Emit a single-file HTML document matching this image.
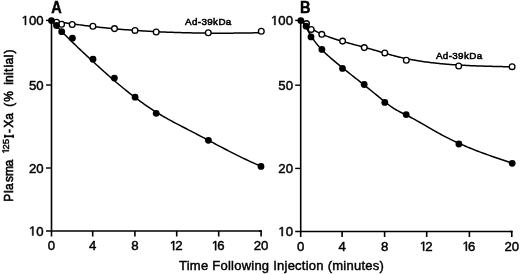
<!DOCTYPE html>
<html><head><meta charset="utf-8"><style>
html,body{margin:0;padding:0;background:#fff;}
body{width:520px;height:274px;overflow:hidden;}
svg{display:block;will-change:transform;}
</style></head><body>
<svg width="520" height="274" viewBox="0 0 520 274">
<rect width="520" height="274" fill="#fff"/>
<g stroke="#000" stroke-width="1.6" fill="none" stroke-linecap="butt">
<line x1="51.5" y1="20.4" x2="51.5" y2="236.5" />
<line x1="46.0" y1="231.0" x2="261.90000000000003" y2="231.0" />
<line x1="46.0" y1="20.4" x2="51.5" y2="20.4" stroke-width="1.4"/>
<line x1="46.0" y1="85.0" x2="51.5" y2="85.0" stroke-width="1.4"/>
<line x1="46.0" y1="168.0" x2="51.5" y2="168.0" stroke-width="1.4"/>
<line x1="92.70" y1="231.0" x2="92.70" y2="236.5" />
<line x1="134.90" y1="231.0" x2="134.90" y2="236.5" />
<line x1="176.70" y1="231.0" x2="176.70" y2="236.5" />
<line x1="218.70" y1="231.0" x2="218.70" y2="236.5" />
<path d="M259.1,231.0 H261.1 V236.5" stroke-linejoin="round"/>
<line x1="300.7" y1="20.4" x2="300.7" y2="237.0" />
<line x1="295.2" y1="231.5" x2="512.6" y2="231.5" />
<line x1="295.2" y1="20.4" x2="300.7" y2="20.4" stroke-width="1.4"/>
<line x1="295.2" y1="85.2" x2="300.7" y2="85.2" stroke-width="1.4"/>
<line x1="295.2" y1="168.4" x2="300.7" y2="168.4" stroke-width="1.4"/>
<line x1="342.10" y1="231.5" x2="342.10" y2="237.0" />
<line x1="384.60" y1="231.5" x2="384.60" y2="237.0" />
<line x1="426.70" y1="231.5" x2="426.70" y2="237.0" />
<line x1="469.40" y1="231.5" x2="469.40" y2="237.0" />
<path d="M509.8,231.5 H511.8 V237.0" stroke-linejoin="round"/>
</g>
<g stroke="#000" stroke-width="1.5" fill="none">
<path d="M51.40,20.39 L52.90,22.06 L54.40,23.70 L55.90,25.33 L57.40,26.94 L58.90,28.53 L60.40,30.11 L61.90,31.67 L63.40,33.21 L64.90,34.74 L66.40,36.25 L67.90,37.75 L69.40,39.24 L70.90,40.72 L72.40,42.18 L73.90,43.64 L75.40,45.08 L76.90,46.52 L78.40,47.95 L79.90,49.37 L81.40,50.79 L82.90,52.20 L84.40,53.60 L85.90,55.00 L87.40,56.39 L88.90,57.79 L90.40,59.17 L91.90,60.56 L93.40,61.94 L94.90,63.32 L96.40,64.69 L97.90,66.06 L99.40,67.42 L100.90,68.77 L102.40,70.12 L103.90,71.47 L105.40,72.81 L106.90,74.14 L108.40,75.46 L109.90,76.78 L111.40,78.08 L112.90,79.38 L114.40,80.68 L115.90,81.96 L117.40,83.23 L118.90,84.50 L120.40,85.75 L121.90,87.00 L123.40,88.23 L124.90,89.46 L126.40,90.67 L127.90,91.87 L129.40,93.06 L130.90,94.24 L132.40,95.41 L133.90,96.57 L135.40,97.71 L136.90,98.84 L138.40,99.96 L139.90,101.06 L141.40,102.15 L142.90,103.23 L144.40,104.29 L145.90,105.34 L147.40,106.38 L148.90,107.40 L150.40,108.40 L151.90,109.39 L153.40,110.37 L154.90,111.33 L156.40,112.27 L157.90,113.20 L159.40,114.11 L160.90,115.00 L162.40,115.89 L163.90,116.76 L165.40,117.61 L166.90,118.46 L168.40,119.29 L169.90,120.12 L171.40,120.94 L172.90,121.75 L174.40,122.55 L175.90,123.34 L177.40,124.13 L178.90,124.91 L180.40,125.69 L181.90,126.47 L183.40,127.24 L184.90,128.02 L186.40,128.79 L187.90,129.56 L189.40,130.33 L190.90,131.10 L192.40,131.88 L193.90,132.66 L195.40,133.44 L196.90,134.22 L198.40,135.01 L199.90,135.80 L201.40,136.59 L202.90,137.38 L204.40,138.18 L205.90,138.97 L207.40,139.77 L208.90,140.56 L210.40,141.36 L211.90,142.16 L213.40,142.95 L214.90,143.75 L216.40,144.54 L217.90,145.33 L219.40,146.12 L220.90,146.91 L222.40,147.70 L223.90,148.48 L225.40,149.26 L226.90,150.04 L228.40,150.82 L229.90,151.59 L231.40,152.36 L232.90,153.12 L234.40,153.88 L235.90,154.63 L237.40,155.38 L238.90,156.12 L240.40,156.86 L241.90,157.59 L243.40,158.31 L244.90,159.03 L246.40,159.74 L247.90,160.44 L249.40,161.14 L250.90,161.83 L252.40,162.51 L253.90,163.18 L255.40,163.84 L256.90,164.49 L258.40,165.14 L259.90,165.77 L261.10,166.27"/>
<path d="M51.30,20.56 L52.80,20.82 L54.30,21.07 L55.80,21.31 L57.30,21.56 L58.80,21.80 L60.30,22.04 L61.80,22.27 L63.30,22.51 L64.80,22.73 L66.30,22.96 L67.80,23.18 L69.30,23.41 L70.80,23.62 L72.30,23.84 L73.80,24.05 L75.30,24.26 L76.80,24.46 L78.30,24.67 L79.80,24.87 L81.30,25.06 L82.80,25.26 L84.30,25.45 L85.80,25.64 L87.30,25.83 L88.80,26.01 L90.30,26.19 L91.80,26.37 L93.30,26.54 L94.80,26.72 L96.30,26.89 L97.80,27.05 L99.30,27.22 L100.80,27.38 L102.30,27.54 L103.80,27.70 L105.30,27.85 L106.80,28.00 L108.30,28.15 L109.80,28.30 L111.30,28.44 L112.80,28.59 L114.30,28.73 L115.80,28.86 L117.30,29.00 L118.80,29.13 L120.30,29.26 L121.80,29.38 L123.30,29.51 L124.80,29.63 L126.30,29.75 L127.80,29.87 L129.30,29.98 L130.80,30.10 L132.30,30.21 L133.80,30.31 L135.30,30.42 L136.80,30.52 L138.30,30.62 L139.80,30.72 L141.30,30.82 L142.80,30.92 L144.30,31.01 L145.80,31.10 L147.30,31.19 L148.80,31.27 L150.30,31.36 L151.80,31.44 L153.30,31.52 L154.80,31.60 L156.30,31.67 L157.80,31.74 L159.30,31.82 L160.80,31.89 L162.30,31.95 L163.80,32.02 L165.30,32.08 L166.80,32.14 L168.30,32.20 L169.80,32.26 L171.30,32.32 L172.80,32.37 L174.30,32.42 L175.80,32.47 L177.30,32.52 L178.80,32.57 L180.30,32.61 L181.80,32.65 L183.30,32.69 L184.80,32.73 L186.30,32.77 L187.80,32.81 L189.30,32.84 L190.80,32.87 L192.30,32.90 L193.80,32.93 L195.30,32.96 L196.80,32.98 L198.30,33.01 L199.80,33.03 L201.30,33.05 L202.80,33.07 L204.30,33.09 L205.80,33.10 L207.30,33.12 L208.80,33.13 L210.30,33.14 L211.80,33.15 L213.30,33.16 L214.80,33.16 L216.30,33.17 L217.80,33.17 L219.30,33.18 L220.80,33.18 L222.30,33.18 L223.80,33.17 L225.30,33.17 L226.80,33.17 L228.30,33.16 L229.80,33.15 L231.30,33.14 L232.80,33.13 L234.30,33.12 L235.80,33.11 L237.30,33.10 L238.80,33.08 L240.30,33.07 L241.80,33.05 L243.30,33.03 L244.80,33.01 L246.30,32.99 L247.80,32.97 L249.30,32.95 L250.80,32.92 L252.30,32.90 L253.80,32.87 L255.30,32.84 L256.80,32.81 L258.30,32.78 L259.80,32.75 L261.30,32.72"/>
<path d="M301.10,19.90 L302.60,21.99 L304.10,24.28 L305.60,26.70 L307.10,29.21 L308.60,31.75 L310.10,34.25 L311.60,36.67 L313.10,38.96 L314.60,41.12 L316.10,43.14 L317.60,45.04 L319.10,46.81 L320.60,48.49 L322.10,50.07 L323.60,51.57 L325.10,53.00 L326.60,54.38 L328.10,55.72 L329.60,57.03 L331.10,58.32 L332.60,59.60 L334.10,60.87 L335.60,62.13 L337.10,63.38 L338.60,64.62 L340.10,65.85 L341.60,67.07 L343.10,68.28 L344.60,69.49 L346.10,70.70 L347.60,71.89 L349.10,73.09 L350.60,74.28 L352.10,75.47 L353.60,76.65 L355.10,77.84 L356.60,79.02 L358.10,80.20 L359.60,81.39 L361.10,82.58 L362.60,83.76 L364.10,84.96 L365.60,86.15 L367.10,87.35 L368.60,88.56 L370.10,89.77 L371.60,90.99 L373.10,92.22 L374.60,93.46 L376.10,94.70 L377.60,95.95 L379.10,97.19 L380.60,98.43 L382.10,99.66 L383.60,100.88 L385.10,102.07 L386.60,103.25 L388.10,104.39 L389.60,105.50 L391.10,106.57 L392.60,107.59 L394.10,108.57 L395.60,109.50 L397.10,110.37 L398.60,111.19 L400.10,111.97 L401.60,112.72 L403.10,113.46 L404.60,114.19 L406.10,114.93 L407.60,115.69 L409.10,116.46 L410.60,117.25 L412.10,118.05 L413.60,118.87 L415.10,119.70 L416.60,120.54 L418.10,121.39 L419.60,122.24 L421.10,123.10 L422.60,123.97 L424.10,124.84 L425.60,125.71 L427.10,126.59 L428.60,127.46 L430.10,128.33 L431.60,129.20 L433.10,130.06 L434.60,130.92 L436.10,131.77 L437.60,132.61 L439.10,133.44 L440.60,134.26 L442.10,135.06 L443.60,135.86 L445.10,136.64 L446.60,137.41 L448.10,138.17 L449.60,138.91 L451.10,139.65 L452.60,140.37 L454.10,141.09 L455.60,141.79 L457.10,142.48 L458.60,143.17 L460.10,143.84 L461.60,144.50 L463.10,145.16 L464.60,145.81 L466.10,146.44 L467.60,147.07 L469.10,147.69 L470.60,148.31 L472.10,148.91 L473.60,149.51 L475.10,150.10 L476.60,150.68 L478.10,151.26 L479.60,151.83 L481.10,152.39 L482.60,152.95 L484.10,153.50 L485.60,154.05 L487.10,154.59 L488.60,155.12 L490.10,155.65 L491.60,156.18 L493.10,156.70 L494.60,157.22 L496.10,157.73 L497.60,158.24 L499.10,158.75 L500.60,159.26 L502.10,159.76 L503.60,160.25 L505.10,160.75 L506.60,161.24 L508.10,161.74 L509.60,162.23 L511.10,162.71 L512.20,163.07"/>
<path d="M301.10,20.42 L302.60,21.80 L304.10,23.11 L305.60,24.35 L307.10,25.53 L308.60,26.64 L310.10,27.68 L311.60,28.68 L313.10,29.61 L314.60,30.50 L316.10,31.33 L317.60,32.13 L319.10,32.88 L320.60,33.59 L322.10,34.26 L323.60,34.90 L325.10,35.51 L326.60,36.10 L328.10,36.66 L329.60,37.20 L331.10,37.73 L332.60,38.24 L334.10,38.73 L335.60,39.22 L337.10,39.70 L338.60,40.16 L340.10,40.62 L341.60,41.07 L343.10,41.51 L344.60,41.95 L346.10,42.38 L347.60,42.80 L349.10,43.22 L350.60,43.63 L352.10,44.04 L353.60,44.44 L355.10,44.85 L356.60,45.25 L358.10,45.65 L359.60,46.05 L361.10,46.45 L362.60,46.85 L364.10,47.25 L365.60,47.66 L367.10,48.06 L368.60,48.47 L370.10,48.89 L371.60,49.30 L373.10,49.73 L374.60,50.16 L376.10,50.59 L377.60,51.03 L379.10,51.47 L380.60,51.92 L382.10,52.36 L383.60,52.80 L385.10,53.25 L386.60,53.68 L388.10,54.12 L389.60,54.54 L391.10,54.96 L392.60,55.37 L394.10,55.77 L395.60,56.16 L397.10,56.54 L398.60,56.91 L400.10,57.26 L401.60,57.61 L403.10,57.94 L404.60,58.27 L406.10,58.58 L407.60,58.89 L409.10,59.18 L410.60,59.47 L412.10,59.75 L413.60,60.01 L415.10,60.27 L416.60,60.53 L418.10,60.77 L419.60,61.01 L421.10,61.24 L422.60,61.46 L424.10,61.68 L425.60,61.89 L427.10,62.09 L428.60,62.29 L430.10,62.48 L431.60,62.66 L433.10,62.84 L434.60,63.01 L436.10,63.17 L437.60,63.33 L439.10,63.49 L440.60,63.63 L442.10,63.78 L443.60,63.91 L445.10,64.05 L446.60,64.17 L448.10,64.30 L449.60,64.41 L451.10,64.53 L452.60,64.64 L454.10,64.74 L455.60,64.84 L457.10,64.94 L458.60,65.03 L460.10,65.12 L461.60,65.21 L463.10,65.29 L464.60,65.37 L466.10,65.44 L467.60,65.51 L469.10,65.58 L470.60,65.65 L472.10,65.71 L473.60,65.77 L475.10,65.83 L476.60,65.89 L478.10,65.94 L479.60,65.99 L481.10,66.04 L482.60,66.09 L484.10,66.14 L485.60,66.19 L487.10,66.23 L488.60,66.27 L490.10,66.31 L491.60,66.35 L493.10,66.39 L494.60,66.43 L496.10,66.47 L497.60,66.51 L499.10,66.55 L500.60,66.58 L502.10,66.62 L503.60,66.66 L505.10,66.70 L506.60,66.74 L508.10,66.78 L509.60,66.81 L511.10,66.85 L512.10,66.88"/>
</g>
<circle cx="56.6" cy="22.2" r="2.85" fill="#fff" stroke="#000" stroke-width="1.35"/>
<circle cx="61.6" cy="24.2" r="2.85" fill="#fff" stroke="#000" stroke-width="1.35"/>
<circle cx="72.2" cy="24.5" r="2.85" fill="#fff" stroke="#000" stroke-width="1.35"/>
<circle cx="92.9" cy="26.3" r="2.85" fill="#fff" stroke="#000" stroke-width="1.35"/>
<circle cx="114.5" cy="28.6" r="2.85" fill="#fff" stroke="#000" stroke-width="1.35"/>
<circle cx="135.0" cy="30.4" r="2.85" fill="#fff" stroke="#000" stroke-width="1.35"/>
<circle cx="156.2" cy="32.0" r="2.85" fill="#fff" stroke="#000" stroke-width="1.35"/>
<circle cx="208.3" cy="32.8" r="2.85" fill="#fff" stroke="#000" stroke-width="1.35"/>
<circle cx="261.3" cy="31.3" r="2.85" fill="#fff" stroke="#000" stroke-width="1.35"/>
<circle cx="51.45" cy="20.6" r="3.4" fill="#000"/>
<circle cx="56.5" cy="25.5" r="3.4" fill="#000"/>
<circle cx="61.7" cy="31.7" r="3.4" fill="#000"/>
<circle cx="72.4" cy="38.2" r="3.4" fill="#000"/>
<circle cx="93.0" cy="59.2" r="3.4" fill="#000"/>
<circle cx="114.4" cy="78.1" r="3.4" fill="#000"/>
<circle cx="135.1" cy="97.2" r="3.4" fill="#000"/>
<circle cx="156.2" cy="113.3" r="3.4" fill="#000"/>
<circle cx="208.4" cy="140.3" r="3.4" fill="#000"/>
<circle cx="261.0" cy="166.4" r="3.4" fill="#000"/>
<circle cx="306.5" cy="23.6" r="2.85" fill="#fff" stroke="#000" stroke-width="1.35"/>
<circle cx="311.2" cy="29.4" r="2.85" fill="#fff" stroke="#000" stroke-width="1.35"/>
<circle cx="321.8" cy="34.3" r="2.85" fill="#fff" stroke="#000" stroke-width="1.35"/>
<circle cx="342.6" cy="41.1" r="2.85" fill="#fff" stroke="#000" stroke-width="1.35"/>
<circle cx="364.3" cy="47.6" r="2.85" fill="#fff" stroke="#000" stroke-width="1.35"/>
<circle cx="384.8" cy="52.9" r="2.85" fill="#fff" stroke="#000" stroke-width="1.35"/>
<circle cx="406.3" cy="60.2" r="2.85" fill="#fff" stroke="#000" stroke-width="1.35"/>
<circle cx="458.7" cy="66.0" r="2.85" fill="#fff" stroke="#000" stroke-width="1.35"/>
<circle cx="512.1" cy="66.7" r="2.85" fill="#fff" stroke="#000" stroke-width="1.35"/>
<circle cx="300.8" cy="20.6" r="3.4" fill="#000"/>
<circle cx="306.1" cy="26.2" r="3.4" fill="#000"/>
<circle cx="311.0" cy="36.9" r="3.4" fill="#000"/>
<circle cx="321.9" cy="49.4" r="3.4" fill="#000"/>
<circle cx="342.5" cy="68.4" r="3.4" fill="#000"/>
<circle cx="364.2" cy="84.5" r="3.4" fill="#000"/>
<circle cx="384.8" cy="102.4" r="3.4" fill="#000"/>
<circle cx="406.2" cy="114.6" r="3.4" fill="#000"/>
<circle cx="458.9" cy="144.0" r="3.4" fill="#000"/>
<circle cx="512.2" cy="163.3" r="3.4" fill="#000"/>
<g font-family="Liberation Sans, sans-serif" font-size="13.2" fill="#000" stroke="#000" stroke-width="0.45">
<path transform="translate(21.58,25.00) scale(0.006445,-0.006445)" stroke-width="69.8" d="M515 0V1237L197 1010V1180L530 1409H696V0Z"/>
<text x="28.92" y="25.00" font-size="13.2">00</text>
<text x="28.92" y="89.60" font-size="13.2">50</text>
<text x="28.92" y="172.60" font-size="13.2">20</text>
<path transform="translate(28.92,235.60) scale(0.006445,-0.006445)" stroke-width="69.8" d="M515 0V1237L197 1010V1180L530 1409H696V0Z"/>
<text x="36.26" y="235.60" font-size="13.2">0</text>
<path transform="translate(270.98,25.00) scale(0.006445,-0.006445)" stroke-width="69.8" d="M515 0V1237L197 1010V1180L530 1409H696V0Z"/>
<text x="278.32" y="25.00" font-size="13.2">00</text>
<text x="278.32" y="89.80" font-size="13.2">50</text>
<text x="278.32" y="173.00" font-size="13.2">20</text>
<path transform="translate(278.32,236.10) scale(0.006445,-0.006445)" stroke-width="69.8" d="M515 0V1237L197 1010V1180L530 1409H696V0Z"/>
<text x="285.66" y="236.10" font-size="13.2">0</text>
<text x="47.83" y="250.20" font-size="13.2">0</text>
<text x="89.03" y="250.20" font-size="13.2">4</text>
<text x="131.23" y="250.20" font-size="13.2">8</text>
<path transform="translate(169.73,250.20) scale(0.006445,-0.006445)" stroke-width="69.8" d="M515 0V1237L197 1010V1180L530 1409H696V0Z"/>
<text x="175.33" y="250.20" font-size="13.2">2</text>
<path transform="translate(211.73,250.20) scale(0.006445,-0.006445)" stroke-width="69.8" d="M515 0V1237L197 1010V1180L530 1409H696V0Z"/>
<text x="217.33" y="250.20" font-size="13.2">6</text>
<text x="253.76" y="250.20" font-size="13.2">20</text>
<text x="297.03" y="250.80" font-size="13.2">0</text>
<text x="338.43" y="250.80" font-size="13.2">4</text>
<text x="380.93" y="250.80" font-size="13.2">8</text>
<path transform="translate(419.73,250.80) scale(0.006445,-0.006445)" stroke-width="69.8" d="M515 0V1237L197 1010V1180L530 1409H696V0Z"/>
<text x="425.33" y="250.80" font-size="13.2">2</text>
<path transform="translate(462.43,250.80) scale(0.006445,-0.006445)" stroke-width="69.8" d="M515 0V1237L197 1010V1180L530 1409H696V0Z"/>
<text x="468.03" y="250.80" font-size="13.2">6</text>
<text x="504.46" y="250.80" font-size="13.2">20</text>
<text x="179" y="269.9" font-size="13" textLength="204.8" lengthAdjust="spacing">Time Following Injection (minutes)</text>
<g transform="translate(13.3,200.8) rotate(-90) scale(0.9,1)" stroke-width="0.6"><text x="-1.09 8.55 11.88 20.85 27.56 38.21" y="0" font-size="13.3">Plasma</text><text x="75.41 81.15 90.10 104.62 110.19 129.00 131.89 139.78 143.24 148.22 151.44 159.21 163.81" y="0" font-size="13.3">-Xa(%initial)</text></g><g transform="translate(13.3,200.8) rotate(-90)"><path transform="translate(47.20,-4.40) scale(0.004687,-0.004687)" stroke-width="96.0" d="M515 0V1237L197 1010V1180L530 1409H696V0Z"/>
<text x="51.30" y="-4.40" font-size="9.6">25</text></g><g stroke="none"><rect x="4.2" y="135.35" width="9.6" height="1.8"/><rect x="4.2" y="134.55" width="1.4" height="3.4"/><rect x="12.4" y="134.55" width="1.4" height="3.4"/></g>
<text x="185.1" y="24.8" stroke-width="0.55" font-size="9.8" textLength="46.2" lengthAdjust="spacing">Ad-39kDa</text>
<text x="435.9" y="58.8" stroke-width="0.55" font-size="9.8" textLength="46.2" lengthAdjust="spacing">Ad-39kDa</text>
<text transform="translate(51.25,12.5) scale(0.92,1)" font-size="15.8" font-weight="bold">A</text>
<text transform="translate(300.0,12.5) scale(0.92,1)" font-size="15.8" font-weight="bold">B</text>
</g>
</svg>
</body></html>
